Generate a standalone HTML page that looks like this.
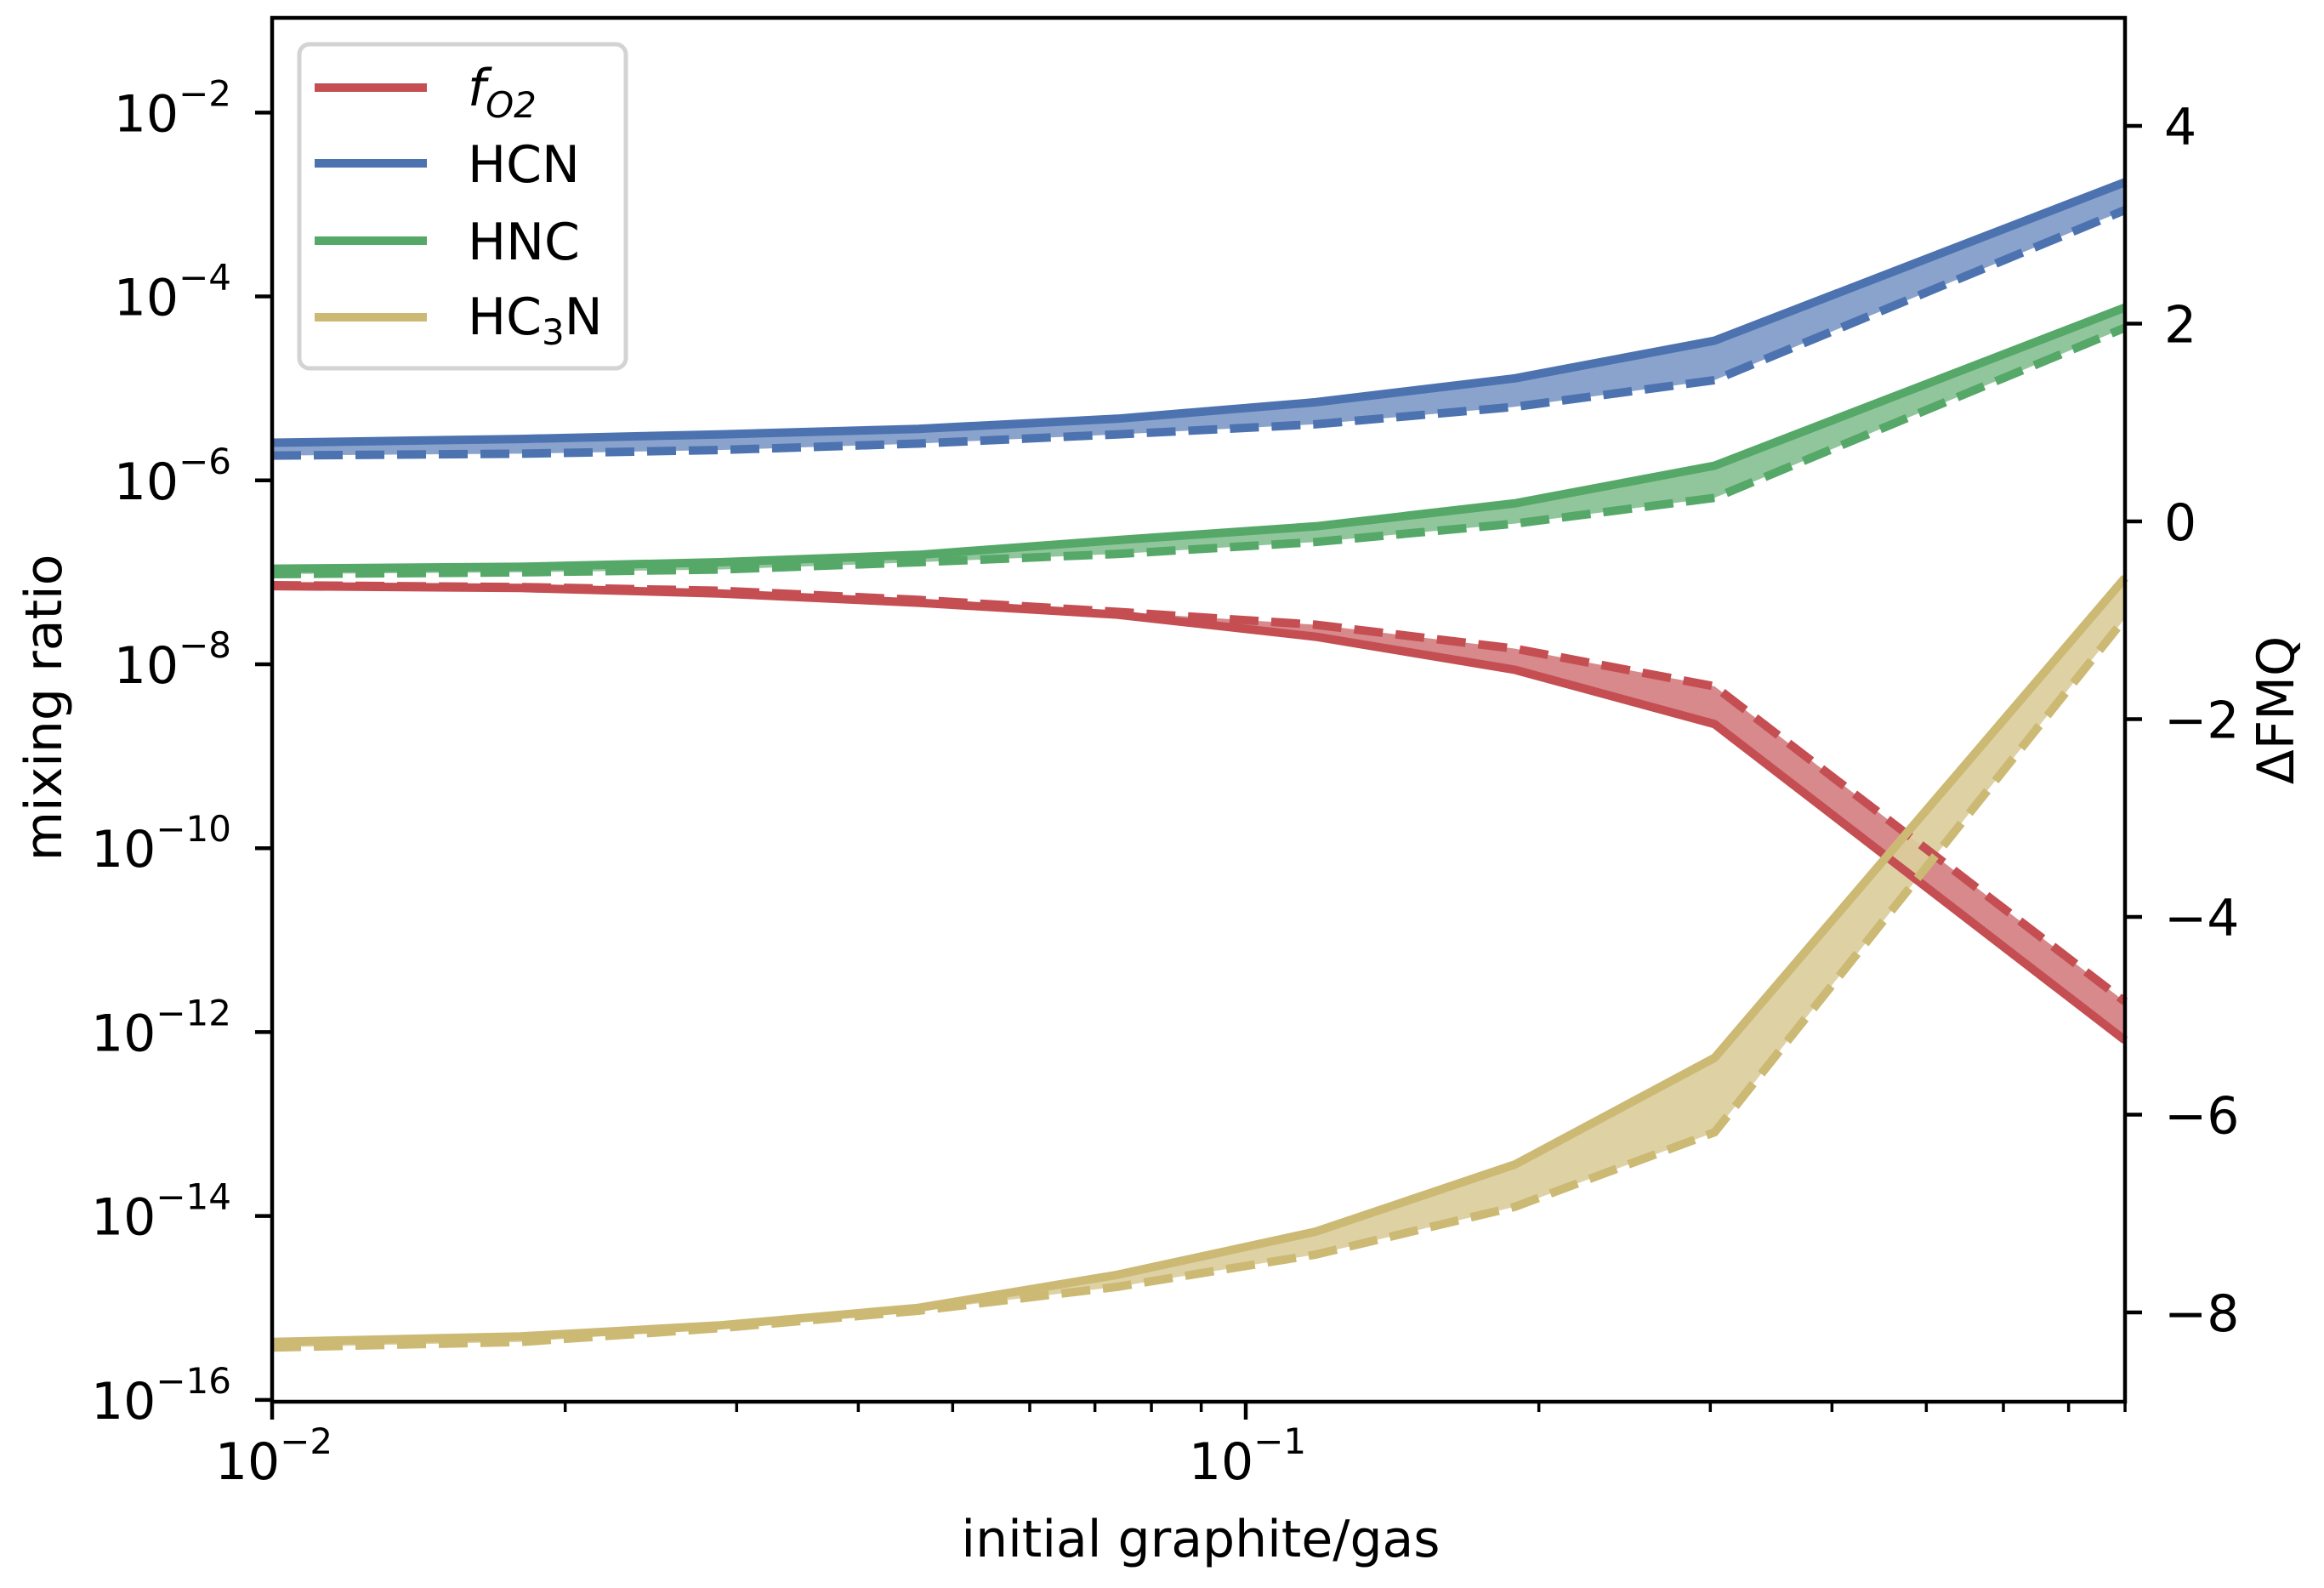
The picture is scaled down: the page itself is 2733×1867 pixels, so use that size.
<!DOCTYPE html>
<html><head><meta charset="utf-8">
<style>
html,body{margin:0;padding:0;background:#fff;}
svg{display:block;font-family:"DejaVu Sans","Liberation Sans",sans-serif;}
</style></head>
<body>
<svg id="chart" width="2733" height="1867" viewBox="0 0 2733 1867" xmlns="http://www.w3.org/2000/svg">
<g id="fills"></g>
<g id="lines"></g>
<g id="axes"></g>
</svg>
<script>
// ---- data ----
const xValues = [0.01, 0.018, 0.0288, 0.0461, 0.0738, 0.118, 0.189, 0.303, 0.80];
const hcnHigh = [-5.59, -5.55, -5.50, -5.44, -5.33, -5.15, -4.89, -4.48, -2.757];
const hcnLow  = [-5.73, -5.71, -5.67, -5.60, -5.50, -5.39, -5.20, -4.91, -3.06];
const hncHigh = [-6.96, -6.94, -6.89, -6.81, -6.65, -6.50, -6.25, -5.84, -4.12];
const hncLow  = [-7.02, -7.00, -6.97, -6.89, -6.80, -6.67, -6.47, -6.19, -4.34];
const fo2High = [-7.14, -7.16, -7.20, -7.30, -7.43, -7.57, -7.83, -8.24, -11.67];
const fo2Low  = [-7.15, -7.17, -7.23, -7.33, -7.46, -7.70, -8.06, -8.65, -12.09];
const hc3nHigh = [-15.37, -15.31, -15.19, -15.00, -14.64, -14.17, -13.44, -12.28, -7.06];
const hc3nLow  = [-15.43, -15.37, -15.22, -15.03, -14.77, -14.42, -13.90, -13.09, -7.50];
const leftTicks = [-2, -4, -6, -8, -10, -12, -14, -16];
const rightTicks = [4, 2, 0, -2, -4, -6, -8];
const xMajorTicks = [-2, -1];

// ---- geometry ----
const L = 320, R = 2499, T = 21, B = 1648;
const xLogMin = -2, decadePx = 1145;
const yLogMin = -16.02, yLogMax = -0.97;
const rZero = 613, rUnit = 116.25;
function X(v){ return L + (Math.log10(v) - xLogMin) * decadePx; }
function Y(lg){ return B - (lg - yLogMin) / (yLogMax - yLogMin) * (B - T); }
function YR(v){ return rZero - v * rUnit; }

const NS = "http://www.w3.org/2000/svg";
function mk(tag, attrs, parent){ const e = document.createElementNS(NS, tag); for (const k in attrs) e.setAttribute(k, attrs[k]); parent.appendChild(e); return e; }
const fills = document.getElementById('fills'), lines = document.getElementById('lines'), axes = document.getElementById('axes');

const series = [
  {name:'fo2', hi:fo2High, lo:fo2Low, c:'#C44E52', fill:'#D47F82', dashHi:true},
  {name:'hcn', hi:hcnHigh, lo:hcnLow, c:'#4C72B0', fill:'#7F9BC8', dashHi:false},
  {name:'hnc', hi:hncHigh, lo:hncLow, c:'#55A868', fill:'#88C195', dashHi:false},
  {name:'hc3n', hi:hc3nHigh, lo:hc3nLow, c:'#CCB974', fill:'#DBCE9D', dashHi:false}
];
function pts(arr){ return xValues.map((x,i)=> X(x).toFixed(1)+','+Y(arr[i]).toFixed(1)); }
series.forEach(s=>{
  const poly = pts(s.hi).concat(pts(s.lo).reverse()).join(' ');
  const f = mk('polygon', {points: poly, fill: s.fill, 'fill-opacity': 0.92, stroke:'none'}, fills);
  
  
  const solid = s.dashHi ? s.lo : s.hi, dashed = s.dashHi ? s.hi : s.lo;
  const l1 = mk('polyline', {points: pts(solid).join(' '), fill:'none', stroke:s.c, 'stroke-width':10, 'stroke-linejoin':'round'}, lines);
  
  
  const l2 = mk('polyline', {points: pts(dashed).join(' '), fill:'none', stroke:s.c, 'stroke-width':10, 'stroke-dasharray':'34 15'}, lines);
  
  
});

// axes frame
const frame = mk('rect', {x:L, y:T, width:R-L, height:B-T, fill:'none', stroke:'#000', 'stroke-width':4.5}, axes);



// left ticks
leftTicks.forEach(t=>{
  const y = Y(t);
  mk('line', {x1:L-20, x2:L, y1:y, y2:y, stroke:'#000', 'stroke-width':4.5}, axes);
  const tx = mk('text', {x:272, y:y+22, 'text-anchor':'end', 'font-size':60}, axes);
  
  
  tx.innerHTML = '10<tspan dy="-30" font-size="42">\u2212' + (-t) + '</tspan>';
});
// right ticks
rightTicks.forEach(t=>{
  const y = YR(t);
  mk('line', {x1:R, x2:R+20, y1:y, y2:y, stroke:'#000', 'stroke-width':4.5}, axes);
  const tx = mk('text', {x:2545, y:y+22, 'font-size':60}, axes);
  
  
  tx.textContent = (t < 0 ? '\u2212' + (-t) : '' + t);
});
// x ticks
xMajorTicks.forEach(t=>{
  const x = X(Math.pow(10,t));
  mk('line', {x1:x, x2:x, y1:B, y2:B+21, stroke:'#000', 'stroke-width':4.5}, axes);
  const tx = mk('text', {x:x+2, y:1739, 'text-anchor':'middle', 'font-size':60}, axes);
  
  
  tx.innerHTML = '10<tspan dy="-30" font-size="42">\u2212' + (-t) + '</tspan>';
});
[0.02,0.03,0.04,0.05,0.06,0.07,0.08,0.09,0.2,0.3,0.4,0.5,0.6,0.7,0.8].forEach(v=>{
  const x = X(v);
  mk('line', {x1:x, x2:x, y1:B, y2:B+12, stroke:'#000', 'stroke-width':3.5}, axes);
});
</script>
<svg style="position:absolute;left:0;top:0" width="2733" height="1867" xmlns="http://www.w3.org/2000/svg" font-family="DejaVu Sans, Liberation Sans, sans-serif">
  <g>
    <rect x="352" y="52" width="384" height="381" rx="12" fill="#fff" fill-opacity="0.8" stroke="#d3d3d3" stroke-width="5"/>
    <line x1="370" x2="502" y1="103" y2="103" stroke="#C44E52" stroke-width="10"/>
    <text x="550" y="124" font-size="60" font-style="italic">f<tspan font-size="42" dy="14">O2</tspan></text>
    <line x1="370" x2="502" y1="192" y2="192" stroke="#4C72B0" stroke-width="10"/>
    <text x="550" y="214" font-size="60">HCN</text>
    <line x1="370" x2="502" y1="283" y2="283" stroke="#55A868" stroke-width="10"/>
    <text x="550" y="305" font-size="60">HNC</text>
    <line x1="370" x2="502" y1="373" y2="373" stroke="#CCB974" stroke-width="10"/>
    <text x="550" y="393" font-size="60">HC<tspan font-size="42" dy="12">3</tspan><tspan dy="-12">N</tspan></text>
  </g>
  <text x="52" y="832" font-size="60" text-anchor="middle" dominant-baseline="central" transform="rotate(-90 52 832)">mixing ratio</text>
  <text x="2677" y="835" font-size="60" text-anchor="middle" dominant-baseline="central" transform="rotate(-90 2677 835)">ΔFMQ</text>
  <text x="1412" y="1830" font-size="60" text-anchor="middle">initial graphite/gas</text>
</svg>
</body></html>
